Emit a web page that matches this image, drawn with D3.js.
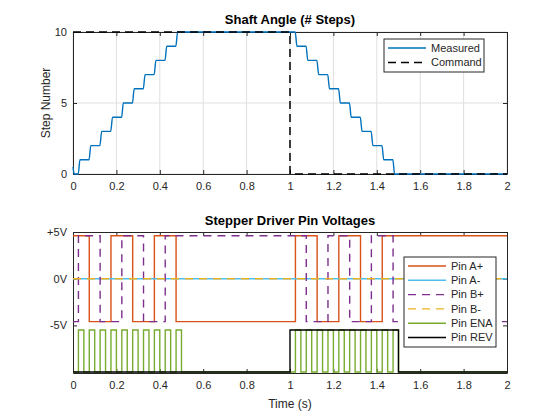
<!DOCTYPE html>
<html>
<head>
<meta charset="utf-8">
<script src="https://cdn.jsdelivr.net/npm/d3@7"></script>
<style>
    body { margin: 0; background: #fff; }
    svg { font-family: "Liberation Sans", Arial, Helvetica, sans-serif; }
</style>
</head>
<body>
<div id="chart" style="width:560px;height:420px"><svg></svg></div>
<script>
let measuredTime = [0, 0.006,
    0.024, 0.032, 0.074, 0.082, 0.124, 0.132, 0.174, 0.182, 0.224, 0.232,
    0.274, 0.282, 0.324, 0.332, 0.374, 0.382, 0.424, 0.432, 0.474, 0.482,
    1.024, 1.032, 1.074, 1.082, 1.124, 1.132, 1.174, 1.182, 1.224, 1.232,
    1.274, 1.282, 1.324, 1.332, 1.374, 1.382, 1.424, 1.432, 1.474, 1.482, 2];
let measuredSteps = [0.5, 0,
    0, 1, 1, 2, 2, 3, 3, 4, 4, 5,
    5, 6, 6, 7, 7, 8, 8, 9, 9, 10,
    10, 9, 9, 8, 8, 7, 7, 6, 6, 5,
    5, 4, 4, 3, 3, 2, 2, 1, 1, 0, 0];
let commandTime = [0, 1, 1, 2];
let commandSteps = [10, 10, 0, 0];

// 下图：各引脚电压（阶跃，curveStepAfter）
let pinAPTime = [0, 0.075, 0.175, 0.275, 0.375, 0.475, 1.025, 1.125, 1.225, 1.325, 1.425, 2];
let pinAPVolt = [4.6, -4.6, 4.6, -4.6, 4.6, -4.6, 4.6, -4.6, 4.6, -4.6, 4.6, 4.6];
let pinAMTime = [0, 2];
let pinAMVolt = [0, 0];
let pinBPTime = [0, 0.025, 0.125, 0.225, 0.325, 0.425, 1.075, 1.175, 1.275, 1.375, 1.475, 2];
let pinBPVolt = [-4.6, 4.6, -4.6, 4.6, -4.6, 4.6, -4.6, 4.6, -4.6, 4.6, -4.6, -4.6];
let pinBMTime = [0, 2];
let pinBMVolt = [0, 0];
let pinENATime = [0,
    0.025, 0.05, 0.075, 0.1, 0.125, 0.15, 0.175, 0.2, 0.225, 0.25,
    0.275, 0.3, 0.325, 0.35, 0.375, 0.4, 0.425, 0.45, 0.475, 0.5,
    1.025, 1.05, 1.075, 1.1, 1.125, 1.15, 1.175, 1.2, 1.225, 1.25,
    1.275, 1.3, 1.325, 1.35, 1.375, 1.4, 1.425, 1.45, 1.475, 1.5, 2];
let pinENAVolt = [-10,
    -5.5, -10, -5.5, -10, -5.5, -10, -5.5, -10, -5.5, -10,
    -5.5, -10, -5.5, -10, -5.5, -10, -5.5, -10, -5.5, -10,
    -5.5, -10, -5.5, -10, -5.5, -10, -5.5, -10, -5.5, -10,
    -5.5, -10, -5.5, -10, -5.5, -10, -5.5, -10, -5.5, -10, -10];
let pinREVTime = [0, 1, 1.5, 2];
let pinREVVolt = [-10, -5.5, -10, -10];

// 刻度
let xTicks = [0, 0.2, 0.4, 0.6, 0.8, 1, 1.2, 1.4, 1.6, 1.8, 2];
let topYTicks = [0, 5, 10];
let bottomYTicks = [5, 0, -5];
let bottomYLabels = ['+5V', '0V', '-5V'];

const textColor = '#262626';

function zip(ts, vs) {
    return ts.map((t, i) => [t, vs[i]]);
}

// 画一个坐标区（四边框 + 向内刻度）
function draw_axes(svg, x, y, yTicks, yFormat, grid) {
    let [x0, x1] = x.range();
    let [y0, y1] = y.range();  // y0 在下
    let g = svg.append('g');

    if (grid) {
        g.selectAll('.gx').data(xTicks).join('line')
            .attr('x1', d => x(d)).attr('x2', d => x(d))
            .attr('y1', y0).attr('y2', y1)
            .attr('stroke', '#dfdfdf').attr('stroke-width', 1);
        g.selectAll('.gy').data(yTicks).join('line')
            .attr('x1', x0).attr('x2', x1)
            .attr('y1', d => y(d)).attr('y2', d => y(d))
            .attr('stroke', '#dfdfdf').attr('stroke-width', 1);
    }

    let fmt = d => String(d);
    g.append('g').attr('transform', `translate(0,${y0})`)
        .call(d3.axisBottom(x).tickValues(xTicks).tickFormat(fmt).tickSize(-4).tickSizeOuter(0).tickPadding(8));
    g.append('g').attr('transform', `translate(0,${y1})`)
        .call(d3.axisTop(x).tickValues(xTicks).tickFormat('').tickSize(-4).tickSizeOuter(0));
    g.append('g').attr('transform', `translate(${x0},0)`)
        .call(d3.axisLeft(y).tickValues(yTicks).tickFormat(yFormat).tickSize(-4).tickSizeOuter(0).tickPadding(6));
    g.append('g').attr('transform', `translate(${x1},0)`)
        .call(d3.axisRight(y).tickValues(yTicks).tickFormat('').tickSize(-4).tickSizeOuter(0));

    g.selectAll('.domain, .tick line').attr('stroke', textColor);
    g.selectAll('text').attr('fill', textColor).attr('font-size', 11)
        .attr('font-family', '"Liberation Sans", Arial, sans-serif');
    return g;
}

function draw_legend(svg, box, rows) {
    let g = svg.append('g');
    g.append('rect')
        .attr('x', box.x).attr('y', box.y).attr('width', box.w).attr('height', box.h)
        .attr('fill', '#fff').attr('stroke', textColor).attr('stroke-width', 1);
    rows.forEach((r, i) => {
        let yy = box.y + box.pad + i * box.step;
        g.append('line')
            .attr('x1', box.x + 4).attr('x2', box.x + 42)
            .attr('y1', yy).attr('y2', yy)
            .attr('stroke', r.color).attr('stroke-width', r.width)
            .attr('stroke-dasharray', r.dash);
        g.append('text')
            .attr('x', box.x + 47).attr('y', yy).attr('dy', '0.35em')
            .attr('font-size', 11).attr('fill', textColor)
            .text(r.name);
    });
}

function draw_chart(containerid) {
    let width = 560, height = 420;
    let svg = d3.select('#' + containerid).select('svg')
        .attr('width', width).attr('height', height);
    svg.append('rect').attr('width', width).attr('height', height).attr('fill', '#fff');

    let x = d3.scaleLinear([0, 2], [73, 507]);

    // ---------- 上图 ----------
    let yTop = d3.scaleLinear([0, 10], [174, 32]);
    draw_axes(svg, x, yTop, topYTicks, d => String(d), true);

    let lineTop = d3.line().x(d => x(d[0])).y(d => yTop(d[1]));
    svg.append('path')
        .datum(zip(measuredTime, measuredSteps))
        .attr('d', lineTop.curve(d3.curveMonotoneX))
        .attr('fill', 'none').attr('stroke', '#0072BD').attr('stroke-width', 1.4);
    svg.append('path')
        .datum(zip(commandTime, commandSteps))
        .attr('d', lineTop.curve(d3.curveLinear))
        .attr('fill', 'none').attr('stroke', '#000').attr('stroke-width', 1.5)
        .attr('stroke-dasharray', '8,5');

    svg.append('text')
        .attr('x', 290).attr('y', 24).attr('text-anchor', 'middle')
        .attr('font-size', 13).attr('font-weight', 'bold').attr('fill', '#000')
        .text('Shaft Angle (# Steps)');
    svg.append('text')
        .attr('transform', 'translate(50,103) rotate(-90)')
        .attr('text-anchor', 'middle')
        .attr('font-size', 12).attr('fill', textColor)
        .text('Step Number');

    draw_legend(svg, { x: 384, y: 39, w: 100, h: 33, pad: 9, step: 14.5 }, [
        { name: 'Measured', color: '#0072BD', width: 1.4, dash: null },
        { name: 'Command', color: '#000', width: 1.5, dash: '8,5' }
    ]);

    // ---------- 下图 ----------
    let yBot = d3.scaleLinear([-10.1, 5], [373, 232]);
    draw_axes(svg, x, yBot, bottomYTicks, (d, i) => bottomYLabels[i], false);

    let pinSeries = [
        { name: 'Pin A+', time: pinAPTime, volt: pinAPVolt, color: '#D95319', dash: null },
        { name: 'Pin A-', time: pinAMTime, volt: pinAMVolt, color: '#4DBEEE', dash: null },
        { name: 'Pin B+', time: pinBPTime, volt: pinBPVolt, color: '#7E2F8E', dash: '8,6' },
        { name: 'Pin B-', time: pinBMTime, volt: pinBMVolt, color: '#EDB120', dash: '8,6' },
        { name: 'Pin ENA', time: pinENATime, volt: pinENAVolt, color: '#77AC30', dash: null },
        { name: 'Pin REV', time: pinREVTime, volt: pinREVVolt, color: '#000', dash: null }
    ];
    let lineBot = d3.line().x(d => x(d[0])).y(d => yBot(d[1])).curve(d3.curveStepAfter);
    pinSeries.forEach(s => {
        svg.append('path')
            .datum(zip(s.time, s.volt))
            .attr('d', lineBot)
            .attr('fill', 'none').attr('stroke', s.color).attr('stroke-width', 1.4)
            .attr('stroke-dasharray', s.dash);
    });

    svg.append('text')
        .attr('x', 290).attr('y', 225).attr('text-anchor', 'middle')
        .attr('font-size', 13).attr('font-weight', 'bold').attr('fill', '#000')
        .text('Stepper Driver Pin Voltages');
    svg.append('text')
        .attr('x', 290).attr('y', 408).attr('text-anchor', 'middle')
        .attr('font-size', 12).attr('fill', textColor)
        .text('Time (s)');

    draw_legend(svg, { x: 404, y: 257, w: 92, h: 90, pad: 9, step: 14.3 },
        pinSeries.map(s => ({ name: s.name, color: s.color, width: 1.4, dash: s.dash })));
}

draw_chart('chart');
</script>
</body>
</html>
